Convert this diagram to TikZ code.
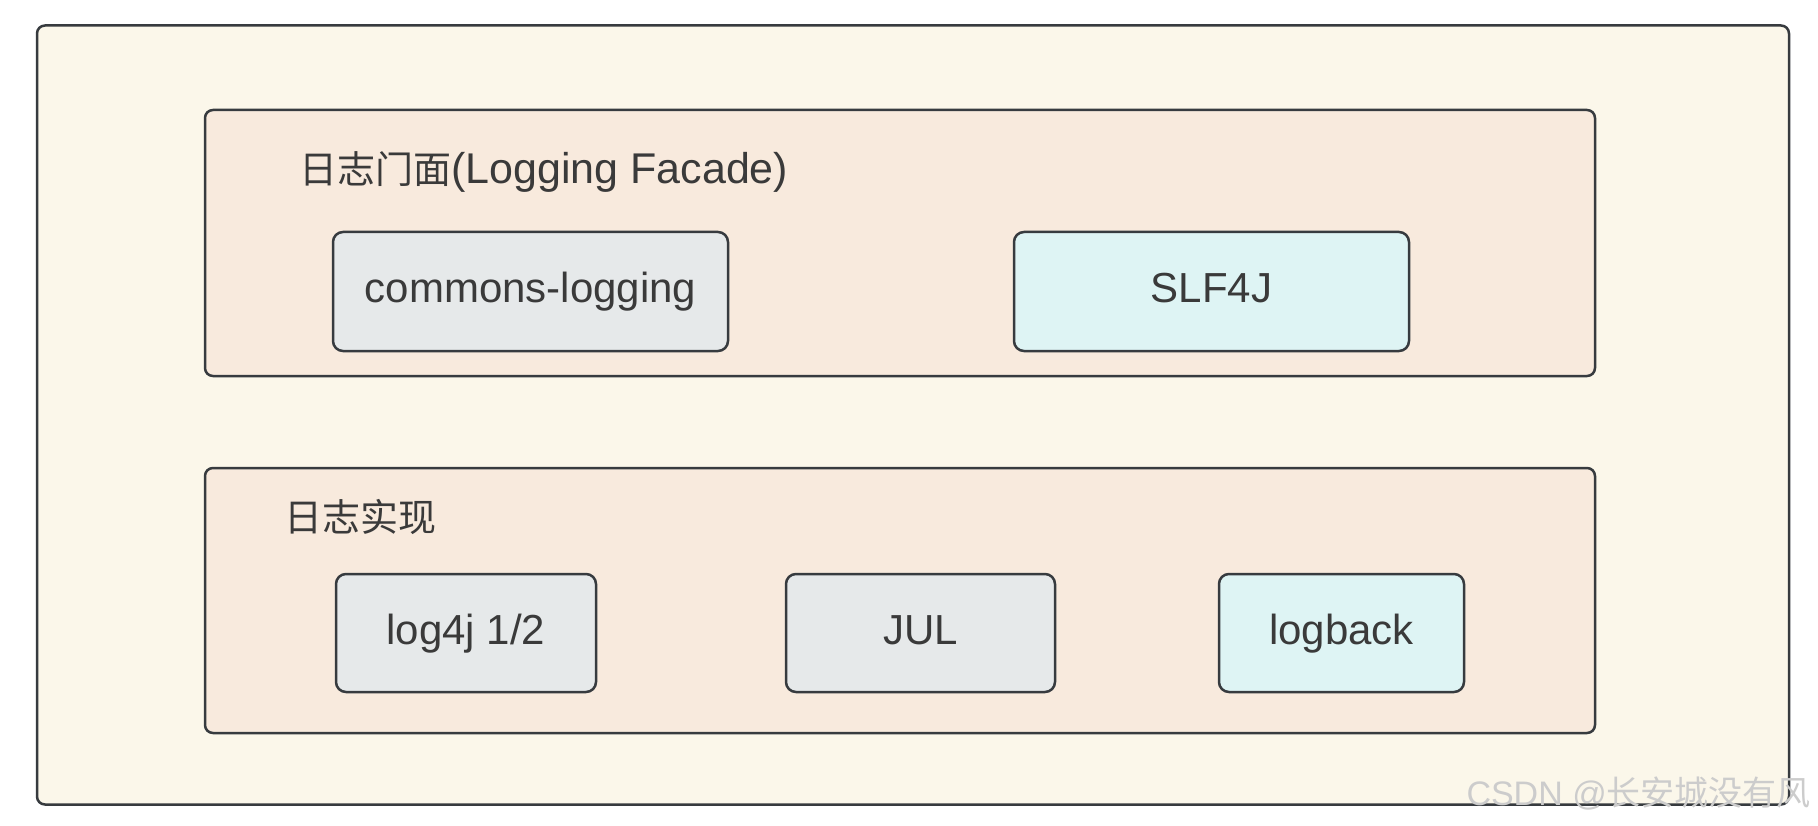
\documentclass[tikz,border=0pt]{standalone}
\usepackage{fontspec}
\setmainfont{Liberation Sans}
\newfontfamily\cjk{Noto Sans CJK SC}
\definecolor{outerfill}{HTML}{FBF7EA}
\definecolor{panelfill}{HTML}{F8EADD}
\definecolor{grayfill}{HTML}{E6E9EA}
\definecolor{cyanfill}{HTML}{DEF4F4}
\definecolor{stroke}{HTML}{373B3F}
\definecolor{txt}{HTML}{3A3A3A}
\tikzset{
  frame/.style={draw=stroke, line width=2.5pt, rounded corners=8pt, inner sep=0pt},
  panel/.style={frame, fill=panelfill},
  grayitem/.style={frame, fill=grayfill, rounded corners=10pt, text=txt,
    font=\fontsize{42}{50}\selectfont, text height=32pt, text depth=10pt},
  cyanitem/.style={grayitem, fill=cyanfill},
  title/.style={text=txt, anchor=base west, inner sep=0pt, font=\fontsize{43}{50}\selectfont},
  watermark/.style={text=gray!40, anchor=base east, inner sep=0pt, font=\fontsize{34}{42}\selectfont}
}
\newcommand{\zh}[1]{{\cjk\fontsize{38}{46}\selectfont #1}}
\begin{document}
\begin{tikzpicture}[x=1pt, y=-1pt]
\useasboundingbox (0,0) rectangle (1818,826);
\fill[white] (0,0) rectangle (1818,826);
\node[frame, fill=outerfill, minimum width=1752pt, minimum height=779pt] (outer) at (913,415) {};
\node[panel, minimum width=1390pt, minimum height=266pt] (facade) at (900,243) {};
\node[panel, minimum width=1390pt, minimum height=265pt] (impl) at (900,600.5) {};
\node[title] (t1) at (299,184) {\zh{日志门面}(Logging Facade)};
\node[title] (t2) at (284,531) {\zh{日志实现}};
\node[grayitem, minimum width=395pt, minimum height=119pt] (cl) at (530.5,291.5) {commons-logging};
\node[cyanitem, minimum width=395pt, minimum height=119pt] (slf) at (1211.5,291.5) {SLF4J};
\node[grayitem, minimum width=260pt, minimum height=118pt] (l4j) at (466,633) {log4j 1/2};
\node[grayitem, minimum width=269pt, minimum height=118pt] (jul) at (920.5,633) {JUL};
\node[cyanitem, minimum width=245pt, minimum height=118pt] (lb) at (1341.5,633) {logback};
\node[watermark] (wm) at (1811,805) {CSDN @{\cjk 长安城没有风}};
\end{tikzpicture}
\end{document}
